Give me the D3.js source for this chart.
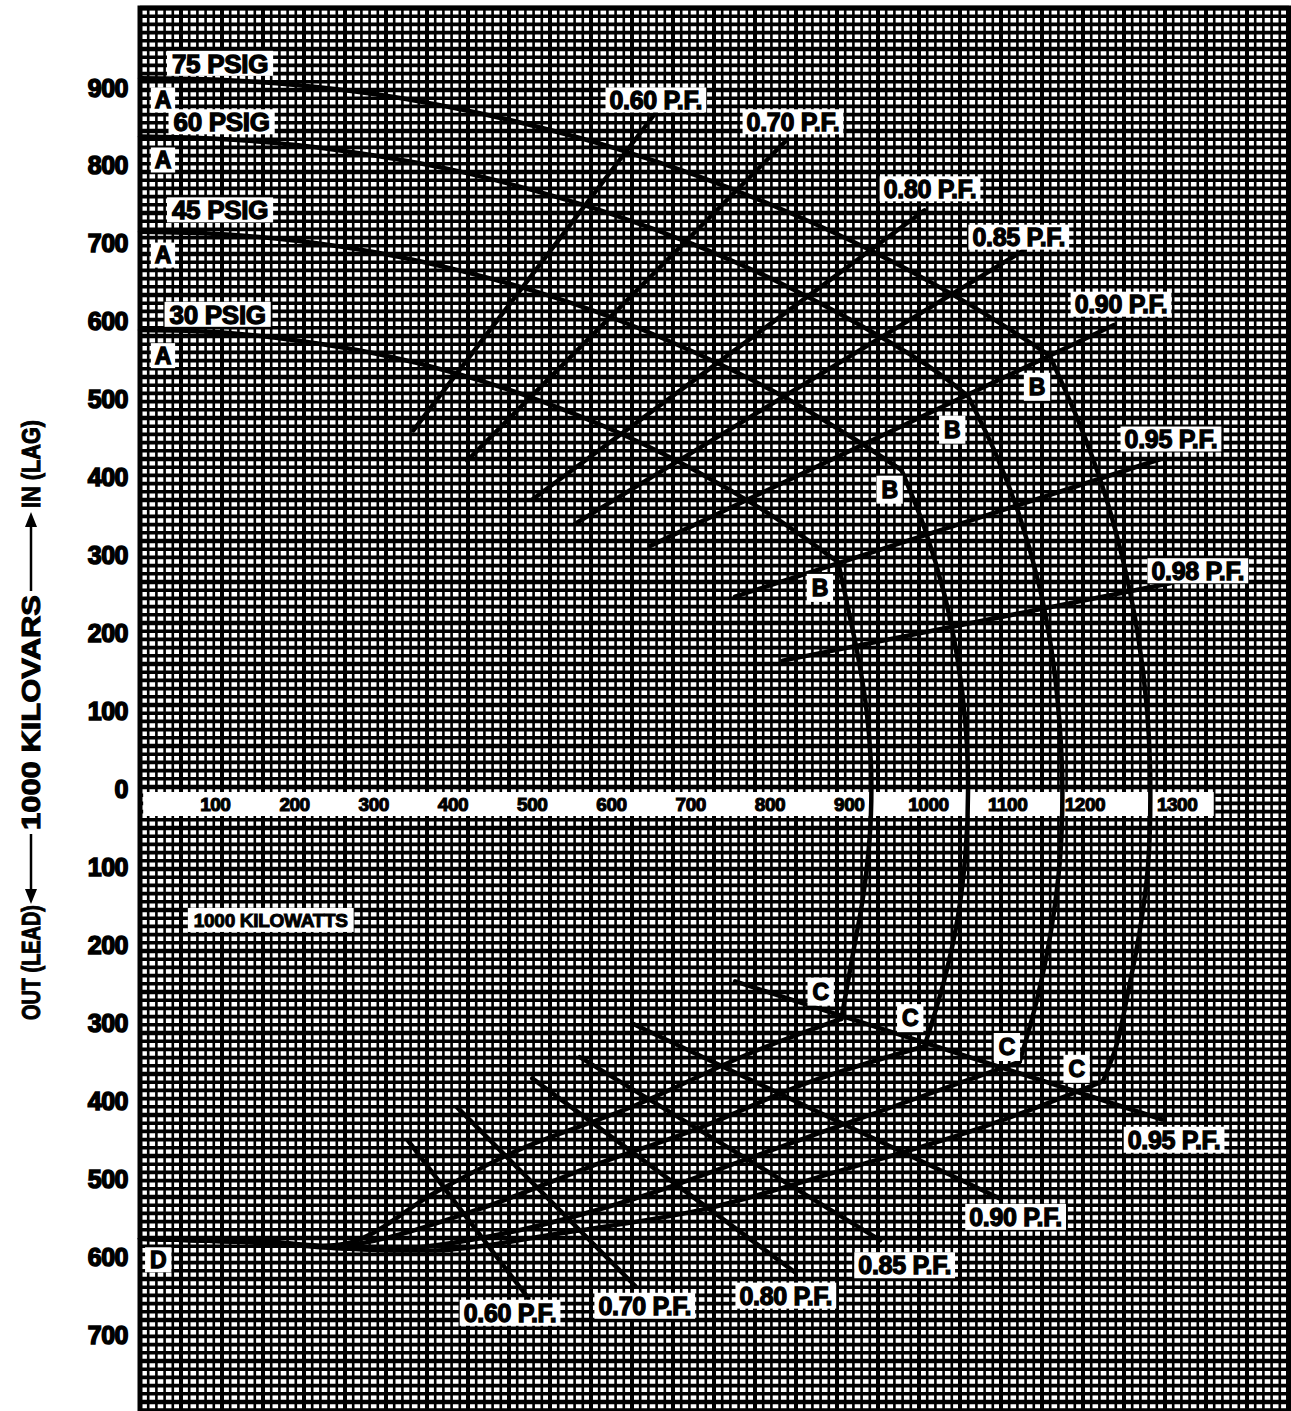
<!DOCTYPE html>
<html><head><meta charset="utf-8">
<script src="https://cdn.jsdelivr.net/npm/d3@7"></script>
<style>body{margin:0;background:#fff}svg{display:block}</style>
</head><body>
<script>
// ---------- DATA (kW, kvar) ----------
const kwTicks = [100,200,300,400,500,600,700,800,900,1000,1100,1200,1300];
const kvarTicks = [900,800,700,600,500,400,300,200,100,0,-100,-200,-300,-400,-500,-600,-700];

// Field-heating limit curves A -> B (per hydrogen pressure)
const psig75 = [[0,912],[100,910],[200,903],[300,891],[400,873],[500,850],[600,822],[700,788],[800,748],[900,702],[1000,649],[1080,601],[1148,556]];
const psig60 = [[0,837],[100,834],[200,826],[300,812],[400,793],[500,767],[600,736],[700,698],[800,653],[900,600],[1000,539],[1045,504]];
const psig45 = [[0,715],[100,712],[200,703],[300,688],[400,666],[500,638],[600,603],[700,560],[800,510],[900,450],[961,409]];
const psig30 = [[0,589],[100,586],[200,575],[300,558],[400,533],[500,500],[600,459],[700,409],[800,349],[881,291]];

// Armature-heating limit curves B -> C
const bc75 = [[1148,556],[1185,470],[1214,390],[1239,300],[1259,200],[1271,100],[1275,0],[1272,-100],[1262,-180],[1247,-260],[1232,-330],[1215,-375]];
const bc60 = [[1045,504],[1080,430],[1110,350],[1135,260],[1150,180],[1160,90],[1164,0],[1161,-90],[1150,-180],[1132,-270],[1110,-350]];
const bc45 = [[961,409],[990,335],[1015,250],[1032,165],[1042,80],[1045,0],[1042,-80],[1032,-165],[1015,-245],[990,-330]];
const bc30 = [[881,291],[895,225],[908,160],[917,100],[922,40],[923,0],[921,-60],[913,-135],[900,-210],[885,-295]];

// Core-end heating limit curves C -> D
const cd30 = [[885,-295],[770,-339],[620,-408],[478,-463],[372,-518],[265,-582],[150,-580],[0,-577]];
const cd45 = [[990,-330],[842,-377],[708,-434],[567,-485],[425,-540],[265,-585],[150,-581],[0,-577]];
const cd60 = [[1110,-350],[974,-399],[798,-463],[620,-527],[461,-570],[330,-590],[265,-589],[150,-582],[0,-577]];
const cd75 = [[1215,-375],[1063,-434],[886,-489],[708,-540],[531,-570],[391,-591],[265,-590],[150,-582],[0,-577]];

// Power-factor radial lines: [label, kW start, kW end, kvar per kW]
const pfLag = [["0.60 P.F.",345,650,1.3333],["0.70 P.F.",413,816,1.0202],["0.80 P.F.",496,990,0.75],["0.85 P.F.",549,1116,0.6197],["0.90 P.F.",644,1229,0.4843],["0.95 P.F.",751,1288,0.3287],["0.98 P.F.",811,1300,0.2031]];
const pfLead = [["0.60 P.F.",338,490,-1.3333],["0.70 P.F.",400,625,-1.0202],["0.80 P.F.",495,827,-0.75],["0.85 P.F.",555,934,-0.6197],["0.90 P.F.",622,1085,-0.4843],["0.95 P.F.",751,1290,-0.3287]];

// Annotations (text, kW, kvar)
const psigLabels = [["75 PSIG",101,931],["60 PSIG",103,856],["45 PSIG",101,743],["30 PSIG",98,609]];
const aLabels = [["A",29,884],["A",29,807],["A",29,685],["A",29,556]];
const bLabels = [["B",1132,516],["B",1025,461],["B",946,384],["B",858,258]];
const cLabels = [["C",859,-260],["C",972,-294],["C",1094,-331],["C",1182,-359]];
const dLabels = [["D",23,-604]];
const pfLagLabels = [["0.60 P.F.",651,884],["0.70 P.F.",824,856],["0.80 P.F.",997,770],["0.85 P.F.",1109,708],["0.90 P.F.",1238,622],["0.95 P.F.",1301,449],["0.98 P.F.",1335,280]];
const pfLeadLabels = [["0.95 P.F.",1305,-450],["0.90 P.F.",1105,-549],["0.85 P.F.",965,-611],["0.80 P.F.",815,-650],["0.70 P.F.",637,-663],["0.60 P.F.",467,-672]];
const kwLabel = [["1000 KILOWATTS",165,-168]];

// ---------- DRAW ----------
const W=1291,H=1411;
const svg=d3.select("body").append("svg").attr("width",W).attr("height",H);
const x=d3.scaleLinear().domain([0,1450]).range([140,1289]);
const y=d3.scaleLinear().domain([-798,1002]).range([1411,8]);
const FONT="'Liberation Sans', Arial, sans-serif";
// label nudges (px) where the printed labels sit between curves
const tickNudge = {1200:-2, 1300:11};

// graph paper (squares independent of data units)
const paper=d3.scaleLinear().domain([0,1]).range([0,8.2]);
const plot=svg.append("g");
plot.append("rect").attr("x",x(0)).attr("y",y(1002)).attr("width",x(1450)-x(0)).attr("height",y(-798)-y(1002)).attr("fill","#fff");
const nCols=Math.ceil((x(1450)-x(0))/paper(1))+1, nRows=Math.ceil((y(-798)-y(1002))/paper(1))+1;
plot.selectAll("line.v").data(d3.range(nCols)).join("line")
  .attr("x1",i=>x(0)+paper(i)).attr("x2",i=>x(0)+paper(i)).attr("y1",y(1002)).attr("y2",y(-798))
  .attr("stroke","#000").attr("stroke-width",i=>i%5===0?4:2.6);
plot.selectAll("line.h").data(d3.range(nRows)).join("line")
  .attr("y1",i=>y(1002)+paper(i)).attr("y2",i=>y(1002)+paper(i)).attr("x1",x(0)).attr("x2",x(1450))
  .attr("stroke","#000").attr("stroke-width",i=>i%5===0?4.6:3.6);

// kW axis band
svg.append("rect").attr("x",x(4)).attr("y",y(0)+3).attr("width",x(1355)-x(4)).attr("height",24).attr("fill","#fff");

// curves
const line=d3.line().x(d=>x(d[0])).y(d=>y(d[1])).curve(d3.curveCatmullRom.alpha(0.5));
const cg=svg.append("g").attr("fill","none").attr("stroke","#000").attr("stroke-width",4.5).attr("stroke-linejoin","round").attr("stroke-linecap","round");
[psig75,psig60,psig45,psig30,bc75,bc60,bc45,bc30,cd30,cd45,cd60,cd75].forEach(c=>cg.append("path").attr("d",line(c)));
[...pfLag,...pfLead].forEach(([t,a,b,k])=>{
  cg.append("line").attr("x1",x(a)).attr("y1",y(a*k)).attr("x2",x(b)).attr("y2",y(b*k));
});

// axis labels
svg.append("g").selectAll("text").data(kwTicks).join("text")
  .attr("x",d=>x(d)-4+(tickNudge[d]||0)).attr("y",y(0)+22).attr("text-anchor","middle")
  .attr("font-family",FONT).attr("font-weight","bold").attr("font-size",19).attr("stroke","#000").attr("stroke-width",1.1)
  .attr("letter-spacing",-0.5).text(d=>d);
svg.append("g").selectAll("text").data(kvarTicks).join("text")
  .attr("x",128).attr("y",d=>y(d)+9).attr("text-anchor","end")
  .attr("font-family",FONT).attr("font-weight","bold").attr("font-size",25).attr("stroke","#000").attr("stroke-width",1.5)
  .attr("letter-spacing",-0.5).text(d=>Math.abs(d));

// boxed annotations
function boxes(data,fs,padX,h,sw){
  const g=svg.append("g");
  data.forEach(([t,kw,kv])=>{
    const cx=x(kw),cy=y(kv);
    const tx=g.append("text").attr("x",cx).attr("y",cy+fs*0.36).attr("text-anchor","middle")
      .attr("font-family",FONT).attr("font-weight","bold").attr("font-size",fs).attr("letter-spacing",-0.3)
      .attr("stroke","#000").attr("stroke-width",sw||1.3).text(t);
    const w=tx.node().getComputedTextLength()+padX*2;
    g.insert("rect","text").attr("x",cx-w/2).attr("y",cy-h/2).attr("width",w).attr("height",h).attr("fill","#fff");
  });
}
boxes(psigLabels,26,5,25);
boxes(aLabels,23,4,25);
boxes(bLabels,23,5,28);
boxes(cLabels,23,5,28);
boxes(dLabels,23,5,25);
boxes(pfLagLabels,25,4,25);
boxes(pfLeadLabels,25,4,26);
boxes(kwLabel,19,6,24,1);

// frame
svg.append("rect").attr("x",x(0)).attr("y",y(1002)).attr("width",x(1450)-x(0)).attr("height",y(-798)-y(1002))
  .attr("fill","none").attr("stroke","#000").attr("stroke-width",5);

// vertical axis title (rotated)
const tg=svg.append("g").attr("transform","translate(31,720) rotate(-90)");
const tstyle=s=>s.attr("font-family",FONT).attr("font-weight","bold").attr("font-size",26).attr("stroke","#000").attr("stroke-width",1)
  .attr("dominant-baseline","central").attr("lengthAdjust","spacingAndGlyphs");
tstyle(tg.append("text").attr("x",-300).attr("y",0).attr("textLength",115).text("OUT (LEAD)"));
tstyle(tg.append("text").attr("x",-110).attr("y",0).attr("textLength",235).text("1000 KILOVARS"));
tstyle(tg.append("text").attr("x",212).attr("y",0).attr("textLength",88).text("IN (LAG)"));
tg.append("line").attr("x1",-175).attr("x2",-114).attr("y1",0).attr("y2",0).attr("stroke","#000").attr("stroke-width",2.5);
tg.append("path").attr("d","M-184,0 L-169,-6 L-169,6 Z").attr("fill","#000");
tg.append("line").attr("x1",129).attr("x2",198).attr("y1",0).attr("y2",0).attr("stroke","#000").attr("stroke-width",2.5);
tg.append("path").attr("d","M208,0 L193,-6 L193,6 Z").attr("fill","#000");
</script>
</body></html>
